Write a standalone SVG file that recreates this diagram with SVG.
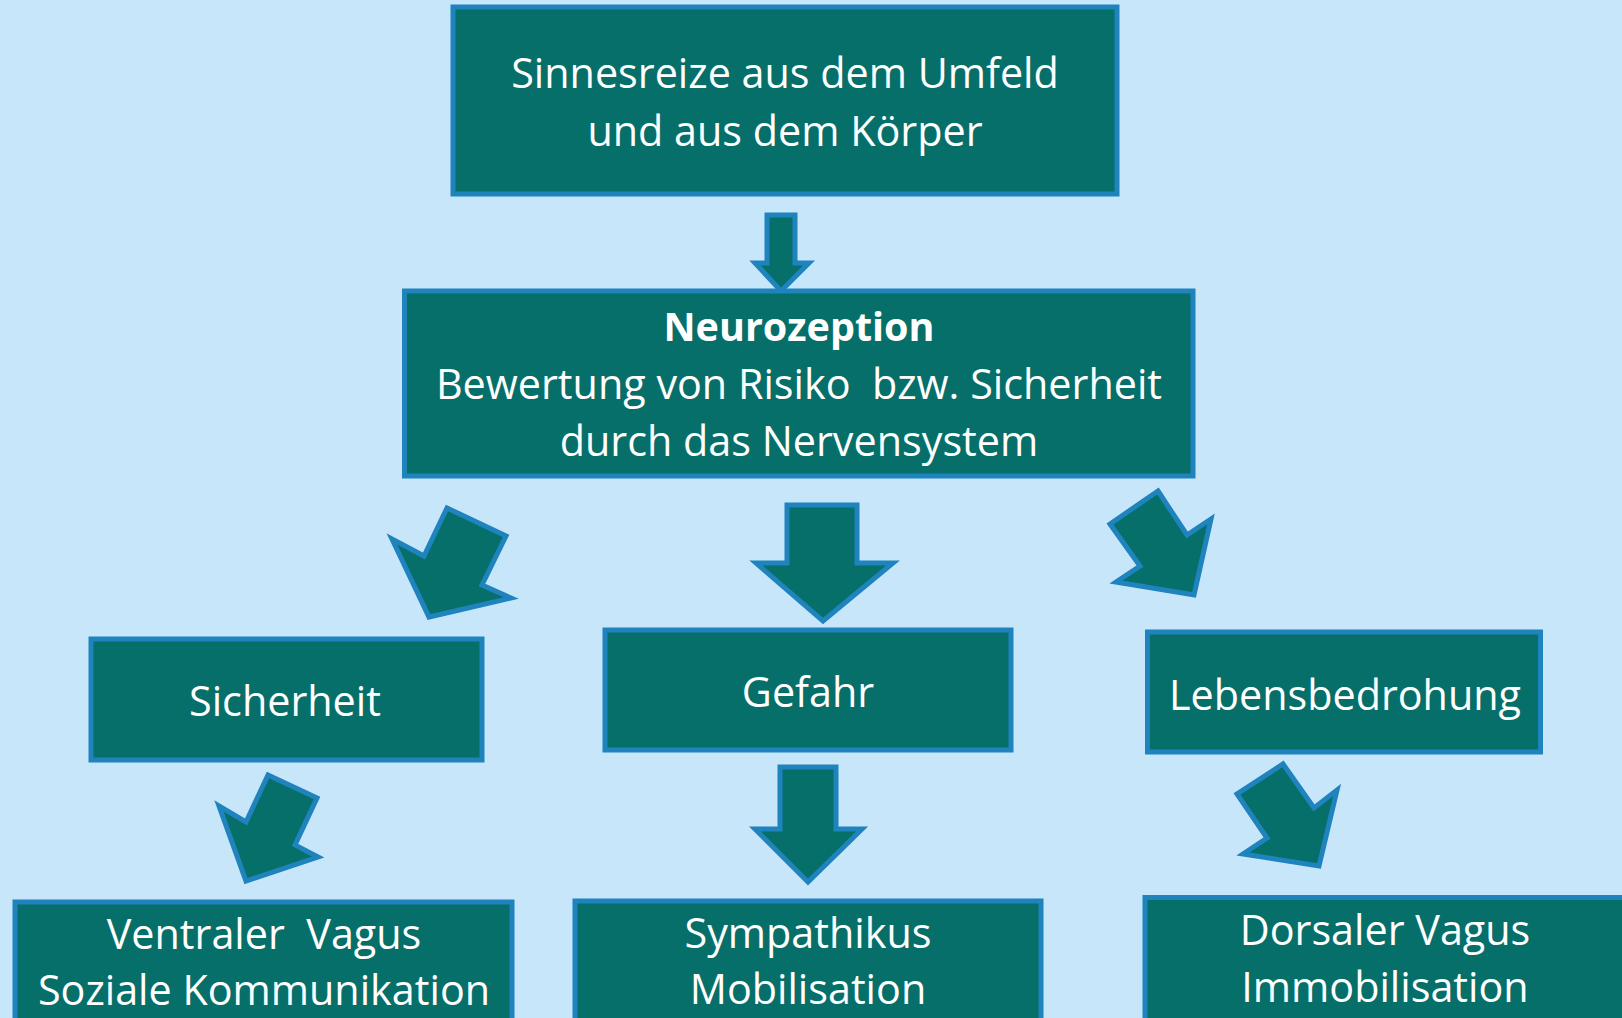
<svg xmlns="http://www.w3.org/2000/svg" width="1622" height="1018" viewBox="0 0 1622 1018">
<style>
.box{fill:#066F6A;stroke:#1F83BD;stroke-width:5}
.arr{fill:#066F6A;stroke:#1F83BD;stroke-width:5;stroke-linejoin:miter}
text{font-family:"Open Sans","Noto Sans","Liberation Sans",sans-serif;font-size:41.3px;fill:#FFFFFF;text-anchor:middle}
.b{font-weight:bold;font-size:39.5px}
</style>
<rect width="1622" height="1018" fill="#C7E6FA"/>
<g id="connectors">
<polygon class="arr" points="767,215 795,215 795,263 809,263 781,291 755,263 767,263"/>
<polygon class="arr" points="447,508 506,536 482,585 511,598 429,617 392,539 424,556"/>
<polygon class="arr" points="787,505 857,505 857,563 893,563 823,621 756,563 787,563"/>
<polygon class="arr" points="1158,491 1187,535 1211,519 1194,595 1116,582 1140,566 1110,524"/>
<polygon class="arr" points="268,775 317,798 295,845 318,857 246,881 219,806 246,822"/>
<polygon class="arr" points="780,767 836,767 836,829 862,829 808,882 755,829 780,829"/>
<polygon class="arr" points="1283,764 1314,808 1337,790 1319,866 1243,854 1267,838 1237,794"/>
</g>
<g id="node-sinnesreize">
<rect class="box" x="453" y="7" width="664" height="187"/>
<text x="785" y="88">Sinnesreize aus dem Umfeld</text>
<text x="785" y="146">und aus dem Körper</text>
</g>
<g id="node-neurozeption">
<rect class="box" x="404.5" y="291" width="788.5" height="185"/>
<text class="b" x="799" y="341">Neurozeption</text>
<text x="799" y="399" xml:space="preserve">Bewertung von Risiko  bzw. Sicherheit</text>
<text x="799" y="456">durch das Nervensystem</text>
</g>
<g id="node-sicherheit">
<rect class="box" x="91" y="639" width="391" height="121"/>
<text x="285" y="716">Sicherheit</text>
</g>
<g id="node-gefahr">
<rect class="box" x="605" y="630" width="406" height="120"/>
<text x="808" y="707">Gefahr</text>
</g>
<g id="node-lebensbedrohung">
<rect class="box" x="1147.5" y="632" width="393" height="120"/>
<text x="1345" y="710">Lebensbedrohung</text>
</g>
<g id="node-ventraler">
<rect class="box" x="15" y="902" width="497" height="130"/>
<text x="264" y="949" xml:space="preserve">Ventraler  Vagus</text>
<text x="264" y="1005">Soziale Kommunikation</text>
</g>
<g id="node-sympathikus">
<rect class="box" x="575" y="901" width="466" height="130"/>
<text x="808" y="948">Sympathikus</text>
<text x="808" y="1004">Mobilisation</text>
</g>
<g id="node-dorsaler">
<rect class="box" x="1145" y="897.5" width="500" height="135"/>
<text x="1385" y="945">Dorsaler Vagus</text>
<text x="1385" y="1002">Immobilisation</text>
</g>
</svg>
